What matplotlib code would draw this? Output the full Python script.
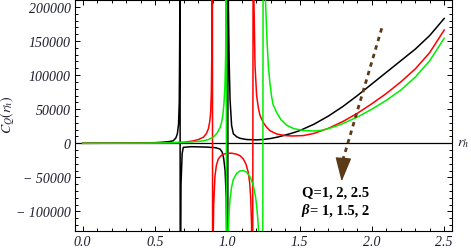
import numpy as np
import matplotlib.pyplot as plt
from matplotlib.ticker import MultipleLocator, FuncFormatter

plt.rcParams["mathtext.fontset"] = "stix"

# heat capacity C_Q(r_h) (+-3e5 = off-scale at a pole)
black_x = [0.0, 0.2, 0.4, 0.5, 0.55, 0.6, 0.627, 0.645, 0.655, 0.663, 0.668, 0.671, 0.673,
           0.675, 0.68, 0.688, 0.696, 0.75, 0.85, 0.92, 0.95, 0.965, 0.975, 0.985, 0.993, 0.999, 1.003,
           1.005, 1.008, 1.013, 1.019, 1.03, 1.042, 1.065, 1.088, 1.134, 1.2, 1.25, 1.3, 1.35, 1.4,
           1.45, 1.5, 1.6, 1.7, 1.8, 1.9, 2.0, 2.1, 2.2, 2.3, 2.4, 2.5]
black_y = [0, 100, 400, 900, 1500, 2500, 3800, 8000, 14000, 28000, 60000, 150000, 300000,
           -300000, -60000, -15000, -6000, -5000, -5500, -6500, -8500, -13000, -22000, -40000, -80000, -200000, -300000,
           300000, 200000, 120000, 65000, 26000, 14000, 9500, 7300, 5500, 5000, 5600, 7000, 9200, 12000,
           15000, 18500, 28000, 40000, 54000, 70000, 87000, 104000, 121000, 138000, 158000, 183000]

red_x = [0.0, 0.3, 0.5, 0.6, 0.7, 0.765, 0.8, 0.834, 0.855, 0.869, 0.879, 0.885, 0.89, 0.894, 0.897,
         0.899, 0.902, 0.906, 0.915, 0.925, 0.938, 0.96, 0.98, 1.0, 1.03, 1.065, 1.09, 1.111, 1.13,
         1.145, 1.155, 1.162, 1.168, 1.175,
         1.179, 1.185, 1.192, 1.203, 1.215, 1.226, 1.25, 1.272, 1.295, 1.342, 1.4, 1.45, 1.526,
         1.6, 1.7, 1.8, 1.9, 2.0, 2.1, 2.2, 2.3, 2.4, 2.5]
red_y = [0, 100, 300, 600, 1500, 3500, 5500, 8800, 14000, 21000, 32000, 45000, 75000, 150000, 300000,
         -300000, -150000, -90000, -48000, -32000, -23000, -17500, -15500, -14700, -14500, -16000, -18500, -23000, -31000,
         -42500, -58000, -80000, -120000, -300000,
         300000, 200000, 113700, 70000, 52000, 41000, 30000, 23500, 18500, 13600, 11300, 10700, 11300,
         14500, 22000, 32000, 44000, 58000, 73000, 90000, 109000, 133000, 166000]

green_x = [0.0, 0.4, 0.6, 0.75, 0.834, 0.87, 0.903, 0.93, 0.95, 0.961, 0.97, 0.977, 0.984, 0.989, 0.993,
           0.995, 1.001, 1.007, 1.013, 1.019, 1.03, 1.042, 1.065, 1.088, 1.11, 1.134, 1.16, 1.18,
           1.195, 1.203, 1.21, 1.217, 1.245,
           1.248, 1.265, 1.275, 1.284, 1.295, 1.307, 1.318, 1.342, 1.37, 1.41, 1.46, 1.526, 1.6,
           1.65, 1.7, 1.757, 1.8, 1.9, 2.0, 2.1, 2.2, 2.3, 2.4, 2.5]
green_y = [0, 200, 600, 1800, 3500, 5500, 9000, 15000, 23000, 31000, 42000, 58000, 85000, 130000, 300000,
           -300000, -180000, -130000, -100000, -82000, -64000, -53000, -44000, -40500, -40000, -42500, -50000, -62000,
           -78000, -91500, -108000, -130000, -300000,
           300000, 205000, 150000, 113700, 88000, 68000, 56000, 45000, 35000, 26500, 21500, 18700, 18000,
           19000, 21500, 25500, 29000, 38500, 50000, 63000, 78000, 97000, 121000, 154000]

arrow_start = (2.068, 168600)
arrow_base = (1.803, -22000)
arrow_tip = (1.791, -56000)

serif = "Liberation Serif"
tick_color = "#1c1c2c"

fig = plt.figure(figsize=(4.71, 2.51), dpi=100)
ax = fig.add_axes([75 / 471, 19 / 251, 376.7 / 471, 231.5 / 251])

ax.axhline(0, color="black", lw=0.9, zorder=1)
ax.plot(black_x, black_y, color="black", lw=1.1, zorder=2)
ax.plot(red_x, red_y, color="#ff0000", lw=1.1, zorder=3)
ax.plot(green_x, green_y, color="#00ee00", lw=1.1, zorder=4)

# dotted brown arrow
ax.plot([arrow_start[0], arrow_base[0]], [arrow_start[1], arrow_base[1]],
        color="#5b3a16", lw=2.0, dashes=(1.6, 1.6), solid_capstyle="butt", zorder=5)
ax.annotate("", xy=arrow_tip, xytext=arrow_base,
            arrowprops=dict(arrowstyle="-|>,head_length=1.5,head_width=0.5",
                            color="#5b3a16", lw=1, shrinkA=0, shrinkB=0), zorder=5)

ax.text(1.514, -71400, "Q=1, 2, 2.5", family=serif, fontweight="bold", fontsize=10.5,
        va="center", ha="left")
ax.text(1.514, -97800, "β", family=serif, fontweight="bold", style="italic", fontsize=10.5,
        va="center", ha="left")
ax.text(1.572, -97800, "= 1, 1.5, 2", family=serif, fontweight="bold", fontsize=10.5,
        va="center", ha="left")

ax.set_xlim(-0.053, 2.552)
ax.set_ylim(-128600, 210800)
ax.xaxis.set_major_locator(MultipleLocator(0.5))
ax.xaxis.set_minor_locator(MultipleLocator(0.1))
ax.yaxis.set_major_locator(MultipleLocator(50000))
ax.yaxis.set_minor_locator(MultipleLocator(10000))
ax.xaxis.set_major_formatter(FuncFormatter(lambda v, p: f"{v:.1f}"))
ax.yaxis.set_major_formatter(FuncFormatter(lambda v, p: f"{v:.0f}".replace("-", "\u2212 ")))
ax.tick_params(which="both", direction="in", top=True, right=True, width=0.7,
               colors="black", labelcolor=tick_color, labelsize=10, pad=3)
ax.tick_params(which="major", length=3.8)
ax.tick_params(which="minor", length=2.0)
for lab in ax.get_xticklabels() + ax.get_yticklabels():
    lab.set_family(serif)
    lab.set_style("italic")
for s in ax.spines.values():
    s.set_linewidth(0.8)

ax.text(1.015, 0, "$r_h$", transform=ax.get_yaxis_transform(), fontsize=10,
        color=tick_color, va="center", ha="left", clip_on=False)
fig.text(8 / 471, 1 - 115 / 251, "$C_Q(r_h)$", rotation=90, fontsize=10,
         color=tick_color, va="center", ha="center")

fig.savefig("out.png", dpi=100)
